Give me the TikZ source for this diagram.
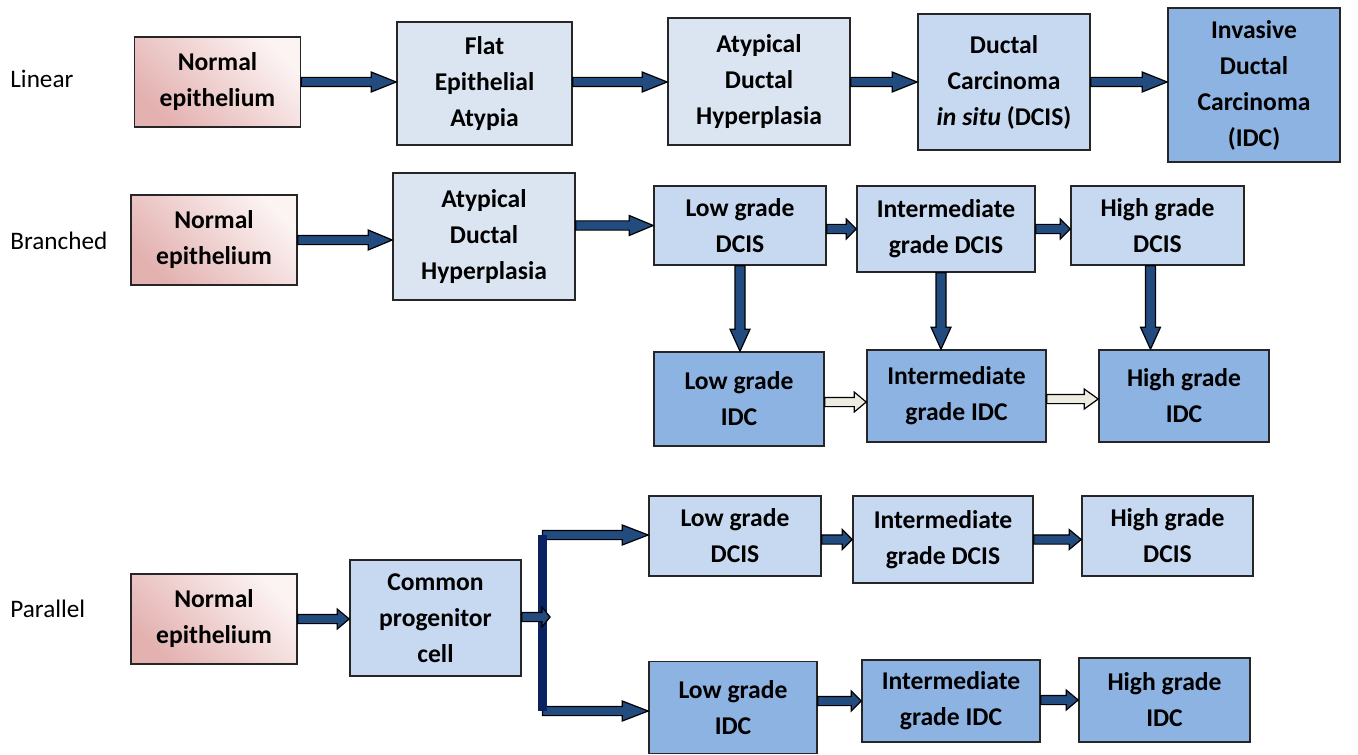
\documentclass[tikz,border=0pt]{standalone}
\usepackage{fontspec}
\setmainfont{Carlito}
\usepackage{tikz}
\usetikzlibrary{calc}

\definecolor{arrowblue}{HTML}{224C80}
\definecolor{barnavy}{HTML}{0A2262}
\definecolor{arrowbeige}{HTML}{EEECE1}
\definecolor{palefill}{HTML}{DBE5F1}
\definecolor{dcisfill}{HTML}{C6D9F1}
\definecolor{idcfill}{HTML}{8DB3E2}
\definecolor{pinkdark}{HTML}{E3B1B0}
\definecolor{pinklight}{HTML}{FCF3F3}

% block arrows, head length given in px
\newcommand{\harrow}[4][arrowblue]{%
  \path let \p1=#2, \p2=#3 in
    [fill=#1, draw=black, line width=0.6pt, line join=miter]
    (\x1,\y1+2.3pt) -- (\x2-#4*0.5pt,\y1+2.3pt) -- (\x2-#4*0.5pt,\y1+5pt)
    -- (\x2,\y1) -- (\x2-#4*0.5pt,\y1-5pt) -- (\x2-#4*0.5pt,\y1-2.3pt)
    -- (\x1,\y1-2.3pt) -- cycle;}
\newcommand{\varrow}[4][arrowblue]{%
  \path let \p1=#2, \p2=#3 in
    [fill=#1, draw=black, line width=0.6pt, line join=miter]
    (\x1+2.5pt,\y1) -- (\x1+2.5pt,\y2+#4*0.5pt) -- (\x1+5pt,\y2+#4*0.5pt)
    -- (\x1,\y2) -- (\x1-5pt,\y2+#4*0.5pt) -- (\x1-2.5pt,\y2+#4*0.5pt)
    -- (\x1-2.5pt,\y1) -- cycle;}

\begin{document}
\begin{tikzpicture}[
        x=0.5pt, y=-0.5pt,
        base/.style={draw=black!85, line width=0.8pt, align=center, inner sep=0pt,
                     font=\fontsize{12.8}{18}\selectfont\bfseries},
        normal/.style={base, top color=pinklight, bottom color=pinkdark, shading angle=-45,
                       minimum width=83pt, minimum height=45pt},
        pale/.style={base, fill=palefill},
        dcis/.style={base, fill=dcisfill},
        idc/.style={base, fill=idcfill},
        rowlabel/.style={anchor=west, inner sep=0pt, font=\fontsize{12.6}{15}\selectfont}
    ]
    \useasboundingbox (0,0) rectangle (1358,754);

    \node[rowlabel] (tlin) at (10,79) {Linear};
    \node[rowlabel] (tbra) at (10,241) {Branched};
    \node[rowlabel] (tpar) at (10,609) {Parallel};

    \node[normal] (ln) at (217.5,82) {Normal\\epithelium};
    \node[pale, minimum width=87.5pt, minimum height=61.5pt] (lfea) at (484.5,83.5) {Flat\\Epithelial\\Atypia};
    \node[pale, minimum width=91pt, minimum height=63.5pt] (ladh) at (759,81.5) {Atypical\\Ductal\\Hyperplasia};
    \node[dcis, minimum width=86pt, minimum height=68pt] (ldcis) at (1004,82) {Ductal\\Carcinoma\\\textit{in situ} (DCIS)};
    \node[idc, minimum width=86pt, minimum height=77pt] (lidc) at (1254,85) {Invasive\\Ductal\\Carcinoma\\(IDC)};

    \node[normal] (bn) at (214,240) {Normal\\epithelium};
    \node[pale, minimum width=91pt, minimum height=63.5pt] (badh) at (484,236.5) {Atypical\\Ductal\\Hyperplasia};
    \node[dcis, minimum width=86pt, minimum height=39.5pt] (blowd) at (740,225.5) {Low grade\\DCIS};
    \node[dcis, minimum width=89pt, minimum height=43pt] (bintd) at (946,229) {Intermediate\\grade DCIS};
    \node[dcis, minimum width=86.5pt, minimum height=39.5pt] (bhighd) at (1157.5,225.5) {High grade\\DCIS};
    \node[idc, minimum width=85pt, minimum height=47pt] (blowi) at (739,399) {Low grade\\IDC};
    \node[idc, minimum width=89.5pt, minimum height=46pt] (binti) at (956.5,396) {Intermediate\\grade IDC};
    \node[idc, minimum width=85pt, minimum height=46pt] (bhighi) at (1184,396) {High grade\\IDC};

    \node[normal] (pn) at (214,619) {Normal\\epithelium};
    \node[dcis, minimum width=85.5pt, minimum height=58pt] (pcpc) at (435.5,618) {Common\\progenitor\\cell};
    \node[dcis, minimum width=86pt, minimum height=40pt] (plowd) at (735,536) {Low grade\\DCIS};
    \node[dcis, minimum width=90pt, minimum height=43.5pt] (pintd) at (943,539.5) {Intermediate\\grade DCIS};
    \node[dcis, minimum width=85.5pt, minimum height=40pt] (phighd) at (1167.5,536) {High grade\\DCIS};
    \node[idc, minimum width=84pt, minimum height=46pt] (plowi) at (733,707.5) {Low grade\\IDC};
    \node[idc, minimum width=89pt, minimum height=41pt] (pinti) at (951,701) {Intermediate\\grade IDC};
    \node[idc, minimum width=85.5pt, minimum height=42pt] (phighi) at (1164.5,700) {High grade\\IDC};

    \harrow{(ln.east)}{(lfea.west)}{25}
    \harrow{(lfea.east |- ln)}{(ladh.west)}{25}
    \harrow{(ladh.east |- ln)}{(ldcis.west)}{25}
    \harrow{(ldcis.east |- ln)}{(lidc.west)}{25}

    \harrow{(bn.east)}{(badh.west)}{24}
    \harrow{(badh.east |- blowd)}{(blowd.west)}{24}
    \harrow{(blowd.east |- bintd)}{(bintd.west)}{10}
    \harrow{(bintd.east)}{(bhighd.west)}{10}
    \varrow{(blowd.south)}{(blowi.north)}{22}
    \varrow{($(bintd.south)+(-5,0)$)}{(binti.north)}{22}
    \varrow{($(bhighd.south)+(-7,0)$)}{(bhighi.north)}{22}
    \harrow[arrowbeige]{($(blowi.east)+(0,3)$)}{(binti.west)}{12}
    \harrow[arrowbeige]{($(binti.east)+(0,3)$)}{(bhighi.west)}{14}

    \coordinate (ftop) at (542.5,535);
    \coordinate (fbot) at (542.5,711);
    \coordinate (fmid) at (550,617);
    \harrow{(pn.east)}{(pcpc.west)}{12}
    \harrow{(ftop)}{(plowd.west |- ftop)}{26}
    \harrow{(fbot)}{(plowi.west |- fbot)}{26}
    \draw[barnavy, line width=4.5pt] (ftop) -- (fbot);
    \harrow{(pcpc.east |- fmid)}{(fmid)}{8}
    \harrow{(plowd.east |- pintd)}{(pintd.west)}{10}
    \harrow{(pintd.east)}{(phighd.west |- pintd)}{12}
    \harrow{(plowi.east |- pinti)}{(pinti.west)}{10}
    \harrow{(pinti.east |- phighi)}{(phighi.west)}{12}
\end{tikzpicture}
\end{document}
